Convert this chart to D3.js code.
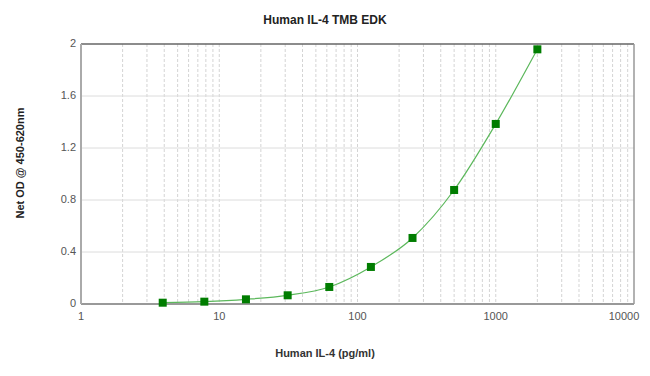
<!DOCTYPE html>
<html>
<head>
<meta charset="utf-8">
<script src="https://cdn.jsdelivr.net/npm/d3@7"></script>
<style>
  body { margin: 0; background: #fff; }
  text { font-family: "Liberation Sans", Arial, sans-serif; }
</style>
</head>
<body>
<div id="chart"></div>
<script>
const concentrations = [3.9, 7.8, 15.6, 31.25, 62.5, 125, 250, 500, 1000, 2000]
const odValues = [0.01, 0.018, 0.036, 0.067, 0.131, 0.285, 0.508, 0.877, 1.385, 1.959]
const xTicks = [1, 10, 100, 1000, 10000]
const yTicks = [0, 0.4, 0.8, 1.2, 1.6, 2]

const width = 650
const height = 376
const margin = { top: 44, right: 16, bottom: 72, left: 81 }

const svg = d3.select('#chart').append('svg')
  .attr('width', width)
  .attr('height', height)

const x = d3.scaleLog().domain([1, 10000]).range([margin.left, width - margin.right])
const y = d3.scaleLinear().domain([0, 2]).range([height - margin.bottom, margin.top])

// minor log gridlines
const minor = []
for (let d = 1; d < 10000; d *= 10) {
  for (let k = 2; k <= 10; k++) minor.push(d * k)
}

svg.append('g')
  .selectAll('line')
  .data(minor.filter((v) => v < 10000))
  .enter()
  .append('line')
  .attr('x1', (d) => x(d))
  .attr('x2', (d) => x(d))
  .attr('y1', y(2))
  .attr('y2', y(0))
  .attr('stroke', '#d4d4d4')
  .attr('stroke-width', 1)
  .attr('stroke-dasharray', '3,2')

svg.append('g')
  .selectAll('line')
  .data(yTicks.slice(1, -1))
  .enter()
  .append('line')
  .attr('x1', x(1))
  .attr('x2', x(10000))
  .attr('y1', (d) => y(d))
  .attr('y2', (d) => y(d))
  .attr('stroke', '#dcdcdc')
  .attr('stroke-width', 1)

// frame
svg.append('line')
  .attr('x1', x(1)).attr('x2', x(10000))
  .attr('y1', y(2)).attr('y2', y(2))
  .attr('stroke', '#666').attr('stroke-width', 1.5)
svg.append('line')
  .attr('x1', x(10000)).attr('x2', x(10000))
  .attr('y1', y(2)).attr('y2', y(0))
  .attr('stroke', '#999').attr('stroke-width', 1.5)
svg.append('line')
  .attr('x1', x(1)).attr('x2', x(10000))
  .attr('y1', y(0)).attr('y2', y(0))
  .attr('stroke', '#999').attr('stroke-width', 2)
svg.append('line')
  .attr('x1', x(1)).attr('x2', x(1))
  .attr('y1', y(2)).attr('y2', y(0))
  .attr('stroke', '#aaa').attr('stroke-width', 2)

// tick labels
svg.append('g')
  .selectAll('text')
  .data(yTicks)
  .enter()
  .append('text')
  .attr('x', x(1) - 5)
  .attr('y', (d) => y(d) + 3)
  .attr('text-anchor', 'end')
  .attr('font-size', 11)
  .attr('fill', '#555')
  .text((d) => d3.format('~g')(d))

svg.append('g')
  .selectAll('text')
  .data(xTicks)
  .enter()
  .append('text')
  .attr('x', (d) => (d === 10000 ? x(d) - 10 : x(d)))
  .attr('y', y(0) + 16)
  .attr('text-anchor', 'middle')
  .attr('font-size', 11)
  .attr('fill', '#555')
  .text((d) => d)

// fitted curve
const pts = concentrations.map((c, i) => [c, odValues[i]])
const line = d3.line()
  .x((d) => x(d[0]))
  .y((d) => y(d[1]))
  .curve(d3.curveMonotoneX)

svg.append('path')
  .datum(pts)
  .attr('d', line)
  .attr('fill', 'none')
  .attr('stroke', '#5cb85c')
  .attr('stroke-width', 1.2)

svg.append('g')
  .selectAll('rect')
  .data(pts)
  .enter()
  .append('rect')
  .attr('x', (d) => x(d[0]) - 4)
  .attr('y', (d) => y(d[1]) - 4)
  .attr('width', 8)
  .attr('height', 8)
  .attr('fill', '#007d00')

// titles
svg.append('text')
  .attr('x', 325)
  .attr('y', 24)
  .attr('text-anchor', 'middle')
  .attr('font-size', 12)
  .attr('font-weight', 'bold')
  .attr('fill', '#222')
  .text('Human IL-4 TMB EDK')

svg.append('text')
  .attr('x', 325)
  .attr('y', 357)
  .attr('text-anchor', 'middle')
  .attr('font-size', 11)
  .attr('font-weight', 'bold')
  .attr('fill', '#333')
  .text('Human IL-4 (pg/ml)')

svg.append('text')
  .attr('transform', 'translate(24,163) rotate(-90)')
  .attr('text-anchor', 'middle')
  .attr('font-size', 11)
  .attr('font-weight', 'bold')
  .attr('fill', '#222')
  .text('Net OD @ 450-620nm')
</script>
</body>
</html>
